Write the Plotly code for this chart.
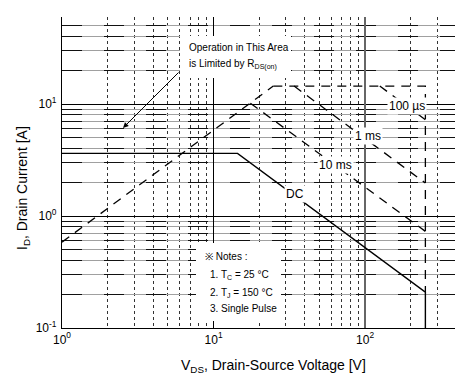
import plotly.graph_objects as go
import numpy as np

# ---- data ----
rds_v = [1.0, 24.8]                    # R_DS(on) limit (dashed)
rds_i = [0.585, 14.5]
idm_v = [24.8, 250.0, 250.0]           # pulsed current / voltage limit (dashed)
idm_i = [14.5, 14.5, 0.21]
us100_v = [125.0, 250.0]               # 100 us
us100_i = [14.5, 7.25]
ms1_v = [34.0, 250.0]                  # 1 ms
ms1_i = [14.5, 1.97]
ms10_v = [17.5, 250.0]                 # 10 ms
ms10_i = [10.2, 0.73]
dc_v = [1.0, 14.4, 250.0, 250.0]       # DC (solid)
dc_i = [3.63, 3.63, 0.209, 0.1]

x_major = [1, 10, 100]
x_major_text = ["10<sup>0</sup>", "10<sup>1</sup>", "10<sup>2</sup>"]
y_major = [0.1, 1, 10]
y_major_text = ["10<sup>-1</sup>", "10<sup>0</sup>", "10<sup>1</sup>"]
x_minor = [2, 3, 4, 5, 6, 7, 8, 9, 20, 30, 40, 50, 60, 70, 80, 90, 200, 300, 400]
y_minor = [0.2, 0.3, 0.4, 0.5, 0.6, 0.7, 0.8, 0.9, 2, 3, 4, 5, 6, 7, 8, 9,
           20, 30, 40, 50, 60]

X_RANGE = [1, 500]
Y_RANGE = [0.1, 60]

FONT = "Arial, Liberation Sans, Arimo, sans-serif"

W, H = 463, 376
L, R, T, B = 54, 463, 9, 320


def px(xp):
    return (xp - L) / (R - L)


def py(yp):
    return (B - yp) / (B - T)


fig = go.Figure()

dash_style = "9px,7px"
fig.add_trace(go.Scatter(x=rds_v, y=rds_i, mode="lines",
                         line=dict(color="black", width=1.3, dash=dash_style)))
fig.add_trace(go.Scatter(x=idm_v, y=idm_i, mode="lines",
                         line=dict(color="black", width=1.3, dash=dash_style)))
for vv, ii in [(us100_v, us100_i), (ms1_v, ms1_i), (ms10_v, ms10_i)]:
    fig.add_trace(go.Scatter(x=vv, y=ii, mode="lines",
                             line=dict(color="black", width=1.3, dash=dash_style)))
fig.add_trace(go.Scatter(x=dc_v, y=dc_i, mode="lines",
                         line=dict(color="black", width=1.4)))
# invisible helper traces for overlay axes carrying extra grid styles
fig.add_trace(go.Scatter(x=[1], y=[1], yaxis="y2", mode="lines",
                         line=dict(width=0), hoverinfo="skip", showlegend=False))
fig.add_trace(go.Scatter(x=[1], y=[1], xaxis="x2", mode="lines",
                         line=dict(width=0), hoverinfo="skip", showlegend=False))

xr = [np.log10(X_RANGE[0]), np.log10(X_RANGE[1])]
yr = [np.log10(Y_RANGE[0]), np.log10(Y_RANGE[1])]

fig.update_layout(
    width=W, height=H,
    margin=dict(l=L, r=W - R, t=T, b=H - B),
    paper_bgcolor="white", plot_bgcolor="white",
    showlegend=False,
    font=dict(family=FONT, color="black", size=12),
    xaxis=dict(type="log", range=xr, tickmode="array", tickvals=x_major,
               ticktext=x_major_text, ticks="", showline=True, linecolor="black",
               linewidth=1.2, showgrid=True, gridcolor="black", gridwidth=1,
               zeroline=False, ticklabelstandoff=0,
               tickfont=dict(size=12, family=FONT),
               minor=dict(tickmode="array", tickvals=x_minor, showgrid=True,
                          gridcolor="#333", griddash="dot", gridwidth=1, ticks="")),
    xaxis2=dict(type="log", range=xr, overlaying="x", tickmode="array",
                tickvals=[100], showticklabels=False, ticks="",
                showgrid=True, gridcolor="#666", gridwidth=2,
                zeroline=False, showline=False),
    yaxis=dict(type="log", range=yr, tickmode="array", tickvals=y_major,
               ticktext=y_major_text, ticks="", showline=True, linecolor="black",
               linewidth=1.2, showgrid=True, gridcolor="black", gridwidth=1,
               zeroline=False, tickfont=dict(size=12, family=FONT),
               ticklabelstandoff=2,
               minor=dict(tickmode="array", tickvals=y_minor, showgrid=True,
                          gridcolor="#a0a0a0", gridwidth=1, ticks="")),
    yaxis2=dict(type="log", range=yr, overlaying="y", tickmode="array",
                tickvals=y_minor, showticklabels=False, ticks="",
                showgrid=True, gridcolor="#111", gridwidth=1,
                griddash="20px,22px", zeroline=False, showline=False),
)

# white boxes behind the text blocks
fig.add_shape(type="rect", xref="paper", yref="paper",
              x0=px(172), x1=px(283), y0=py(70), y1=py(28),
              fillcolor="white", line=dict(width=0), layer="above")
fig.add_shape(type="rect", xref="paper", yref="paper",
              x0=px(188), x1=px(273), y0=py(313), y1=py(235),
              fillcolor="white", line=dict(width=0), layer="above")

ann = []


def text(t, xp, yp, size=10, xanchor="left", bg=None, **kw):
    d = dict(text=t, x=px(xp), y=py(yp), xref="paper", yref="paper",
             xanchor=xanchor, yanchor="middle", showarrow=False,
             font=dict(size=size, family=FONT, color="black"))
    if bg:
        d.update(bgcolor=bg, borderpad=1)
    d.update(kw)
    ann.append(d)


text("Operation in This Area", 179, 39, 10)
text("is Limited by R<sub>DS(on)</sub>", 179, 56, 10)
# arrow
ann.append(dict(x=px(115), y=py(120), xref="paper", yref="paper",
                ax=57, ay=-57, axref="pixel", ayref="pixel", text="",
                showarrow=True, arrowhead=2, arrowsize=1.1, arrowwidth=1,
                arrowcolor="black"))

text("100 µs", 399, 98, 12, xanchor="center", bg="white")
text("1 ms", 360, 128, 12, xanchor="center", bg="white")
text("10 ms", 327, 157, 12, xanchor="center", bg="white")
text("DC", 287, 186, 12, xanchor="center", bg="white")

text("※ Notes :", 195, 248, 10)
text("1. T<sub>C</sub> = 25 °C", 200, 267, 10)
text("2. T<sub>J</sub> = 150 °C", 200, 285, 10)
text("3. Single Pulse", 200, 300, 10)

text("V<sub>DS</sub>, Drain-Source Voltage [V]", 265, 358, 14, xanchor="center")
text("I<sub>D</sub>, Drain Current [A]", 15, 180, 14, xanchor="center",
     textangle=-90)

fig.update_layout(annotations=ann)

fig.write_html("out.html")
